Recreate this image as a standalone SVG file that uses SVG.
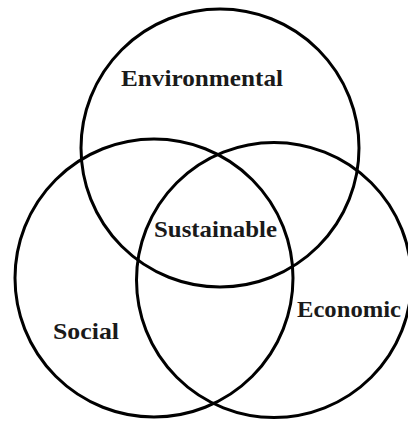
<svg xmlns="http://www.w3.org/2000/svg" width="408" height="423" viewBox="0 0 408 423">
<style>
.c{fill:none;stroke:#000;stroke-width:3}
.t{font-family:"Liberation Serif","Times New Roman",serif;font-weight:bold;font-size:23px;fill:#1a1a1a}
</style>
<rect width="408" height="423" fill="#fff"/>
<g id="environmental"><circle class="c" cx="220" cy="148" r="139"/><text class="t" x="121" y="86" textLength="162" lengthAdjust="spacingAndGlyphs">Environmental</text></g>
<g id="social"><circle class="c" cx="154" cy="278" r="139"/><text class="t" x="53" y="339" textLength="66" lengthAdjust="spacingAndGlyphs">Social</text></g>
<g id="economic"><circle class="c" cx="274" cy="280" r="137.5"/><text class="t" x="297" y="317" textLength="104" lengthAdjust="spacingAndGlyphs">Economic</text></g>
<g id="sustainable"><text class="t" x="154" y="237" textLength="123" lengthAdjust="spacingAndGlyphs">Sustainable</text></g>
<g id="connectors"/>
</svg>
